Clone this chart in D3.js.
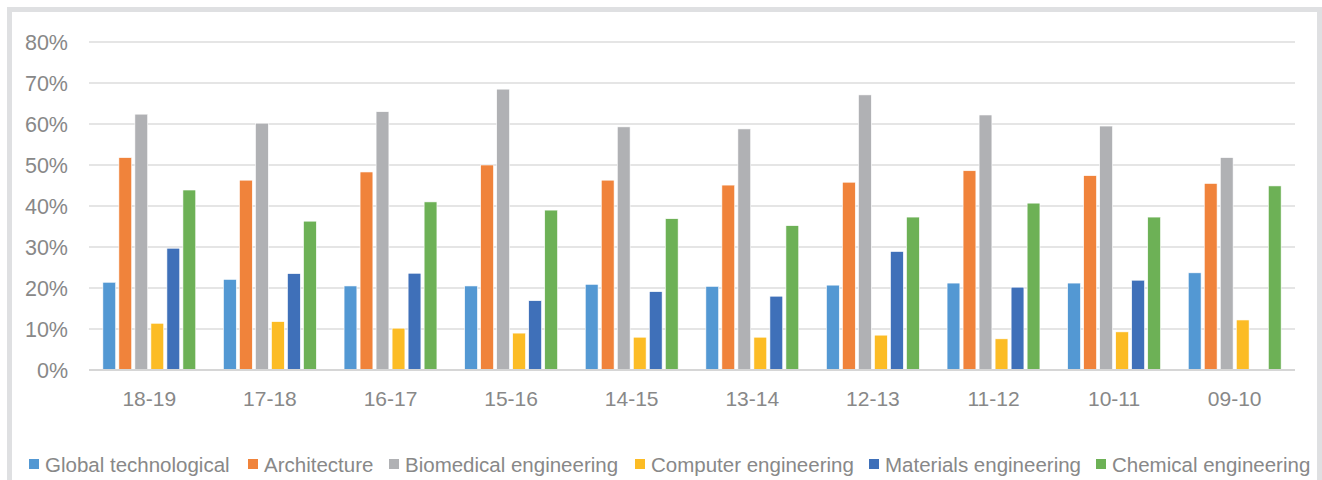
<!DOCTYPE html>
<html>
<head>
<meta charset="utf-8">
<script src="https://cdn.jsdelivr.net/npm/d3@7"></script>
<style>
  html, body { margin: 0; padding: 0; background: #ffffff; }
  svg { display: block; }
  text { font-family: "Liberation Sans", Arial, sans-serif; }
</style>
</head>
<body>
<script>
const categories = ["18-19", "17-18", "16-17", "15-16", "14-15", "13-14", "12-13", "11-12", "10-11", "09-10"];
const seriesNames = ["Global technological", "Architecture", "Biomedical engineering", "Computer engineering", "Materials engineering", "Chemical engineering"];
const globalTech   = [21.4, 22.1, 20.5, 20.5, 20.9, 20.4, 20.7, 21.2, 21.2, 23.7];
const architecture = [51.8, 46.3, 48.3, 50.0, 46.3, 45.1, 45.8, 48.6, 47.4, 45.5];
const biomedical   = [62.4, 60.2, 63.0, 68.5, 59.3, 58.8, 67.1, 62.2, 59.5, 51.8];
const computer     = [11.4, 11.8, 10.2, 9.0, 8.0, 8.0, 8.5, 7.6, 9.3, 12.2];
const materials    = [29.7, 23.5, 23.6, 16.9, 19.1, 18.0, 28.9, 20.2, 21.9, null];
const chemical     = [43.9, 36.3, 41.0, 39.0, 36.9, 35.2, 37.3, 40.7, 37.3, 44.9];
const yTicks = [0, 10, 20, 30, 40, 50, 60, 70, 80];
const colors = ["#5398d3", "#f0833b", "#b0b1b4", "#fcbc25", "#3f70b9", "#6db156"];

const seriesValues = [globalTech, architecture, biomedical, computer, materials, chemical];

const W = 1322, H = 480;
const svg = d3.select("body").append("svg").attr("width", W).attr("height", H);

// outer frame
svg.append("rect")
  .attr("x", 9.5).attr("y", 9.5).attr("width", 1310).attr("height", 500)
  .attr("fill", "none").attr("stroke", "#dfe0e2").attr("stroke-width", 5);

const plot = { left: 89, right: 1295, top: 42, bottom: 370 };

const x0 = d3.scaleBand().domain(categories).range([plot.left, plot.right])
  .paddingInner(0.23).paddingOuter(0.115);
const x1 = d3.scaleBand().domain(d3.range(seriesNames.length)).range([0, x0.bandwidth()])
  .paddingInner(0.2).paddingOuter(0);
const y = d3.scaleLinear().domain([0, 80]).range([plot.bottom, plot.top]);

// gridlines
svg.append("g").selectAll("line").data(yTicks.filter(d => d > 0)).join("line")
  .attr("x1", plot.left).attr("x2", plot.right)
  .attr("y1", d => y(d)).attr("y2", d => y(d))
  .attr("stroke", "#dcdcdc").attr("stroke-width", 1.5);

// y labels
svg.append("g").selectAll("text").data(yTicks).join("text")
  .attr("x", 68).attr("y", d => y(d)).attr("dy", "0.36em")
  .attr("text-anchor", "end").attr("font-size", 21.5).attr("fill", "#888888")
  .text(d => d + "%");

// bars
const groups = svg.append("g").selectAll("g").data(categories).join("g")
  .attr("transform", c => `translate(${x0(c)},0)`);
groups.selectAll("rect")
  .data((c, ci) => seriesValues.map((vals, si) => ({ si, v: vals[ci] })).filter(d => d.v != null))
  .join("rect")
  .attr("x", d => x1(d.si))
  .attr("width", x1.bandwidth())
  .attr("y", d => y(d.v))
  .attr("height", d => y(0) - y(d.v))
  .attr("fill", d => colors[d.si])
  .attr("stroke", "#ffffff").attr("stroke-width", 0.6);

// baseline axis
svg.append("line")
  .attr("x1", plot.left).attr("x2", plot.right)
  .attr("y1", y(0)).attr("y2", y(0))
  .attr("stroke", "#d6d6d6").attr("stroke-width", 2);

// x labels
svg.append("g").selectAll("text").data(categories).join("text")
  .attr("x", c => x0(c) + x0.bandwidth() / 2).attr("y", 406)
  .attr("text-anchor", "middle").attr("font-size", 21).attr("fill", "#888888")
  .text(c => c);

// legend
const legendX = [29, 248, 389, 635, 869, 1096];
const lg = svg.append("g").selectAll("g").data(seriesNames).join("g")
  .attr("transform", (d, i) => `translate(${legendX[i]},0)`);
lg.append("rect").attr("x", 0).attr("y", 459).attr("width", 10).attr("height", 10)
  .attr("fill", (d, i) => colors[i]);
lg.append("text").attr("x", 16).attr("y", 471.5)
  .attr("font-size", 20.5).attr("fill", "#888888")
  .text(d => d);
</script>
</body>
</html>
